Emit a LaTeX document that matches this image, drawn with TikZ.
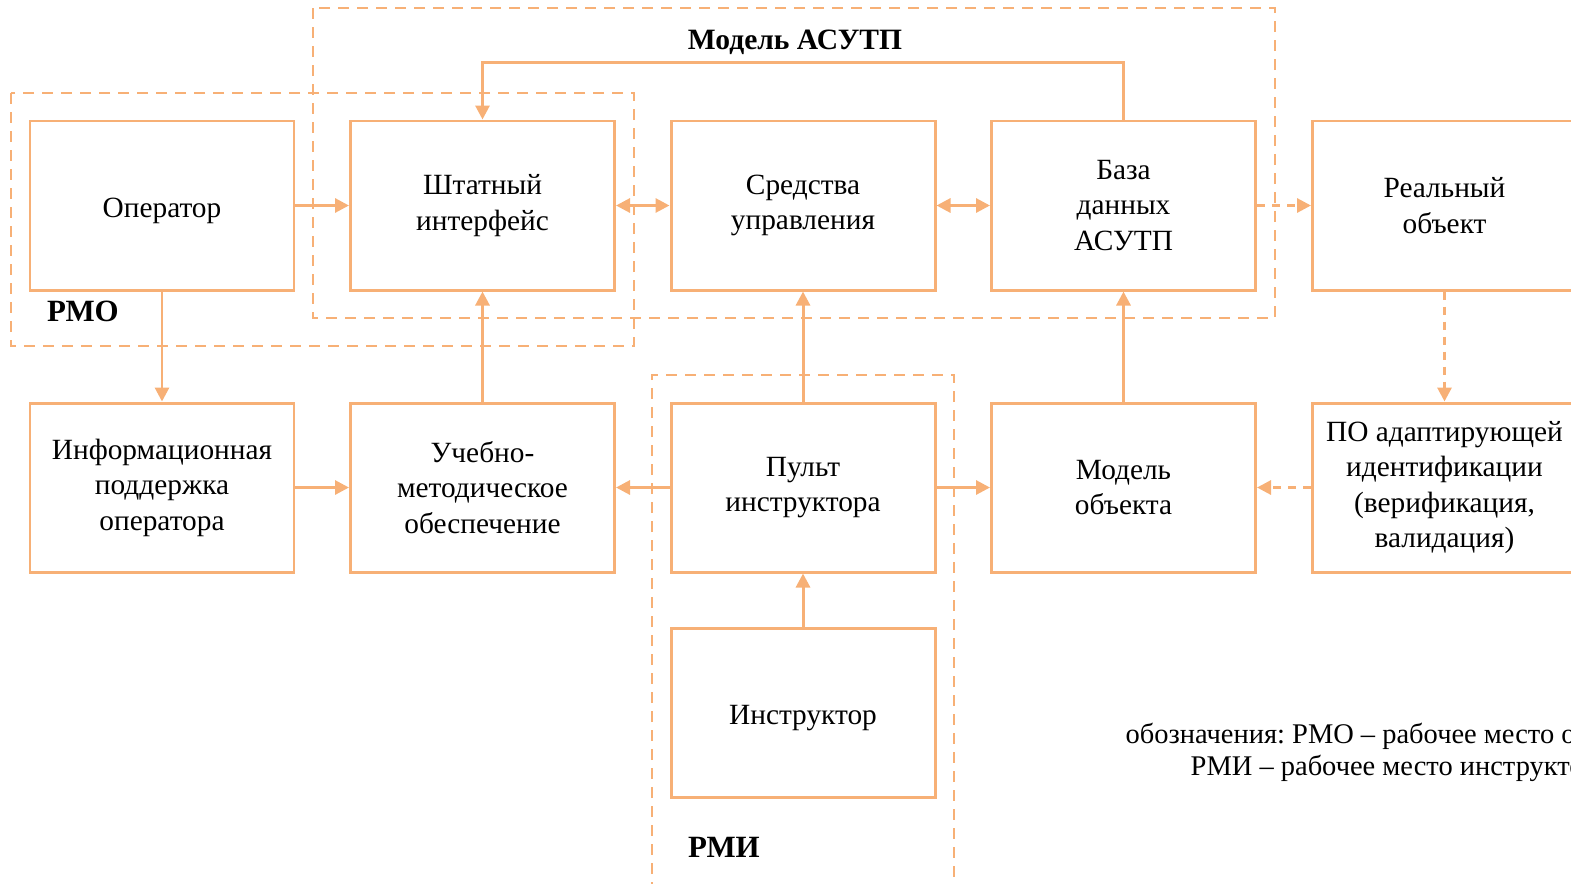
\documentclass[tikz,border=0pt]{standalone}
\usepackage{fontspec}
\setmainfont{Liberation Serif}
\usepackage{xcolor}
\usepackage{tikz}
\usetikzlibrary{arrows.meta}
\frenchspacing
\definecolor{boxorange}{RGB}{247,176,118}
\tikzstyle{block} = [draw=boxorange,line width=0.85pt,rectangle,minimum width=2.64cm,minimum height=1.69cm,align=center,inner sep=0pt,font=\fontsize{8.35}{10.1}\selectfont,execute at begin node={\rule{0pt}{1em}}]
\tikzstyle{arrow} = [draw=boxorange,line width=0.85pt,->,>={Triangle[length=1.4mm,width=1.4mm]}]
\tikzstyle{darrow} = [arrow,dash pattern=on 0.8mm off 0.7mm]
\tikzstyle{zone} = [draw=boxorange,line width=0.6pt,dash pattern=on 1.1mm off 0.8mm]
\tikzstyle{zonelabel} = [font=\bfseries\fontsize{8.8}{10}\selectfont,inner sep=0pt]
\tikzstyle{legend} = [anchor=west,inner sep=0pt,font=\fontsize{8.1}{10}\selectfont]

\begin{document}
\begin{tikzpicture}
            \useasboundingbox (0,0) rectangle (15.71,-8.83);
            \clip (0,0) rectangle (15.71,-8.83);
            % zones
            \draw[zone] (3.13,-0.08) rectangle (12.75,-3.18);
            \draw[zone] (0.11,-0.93) rectangle (6.34,-3.46);
            \draw[zone] (6.52,-9.5) -- (6.52,-3.75) -- (9.54,-3.75) -- (9.54,-9.5);
            \node[zonelabel,font=\bfseries\fontsize{8.4}{10}\selectfont] (asutp) at (7.95,-0.42) {Модель АСУТП};
            \node[zonelabel] (rmo) at (0.83,-3.11) {РМО};
            \node[zonelabel] (rmi) at (7.24,-8.47) {РМИ};
            % basics
            \node[block] (oper) at (1.62,-2.055) {Оператор};
            \node[block] (shtat) at (4.825,-2.055) {Штатный\\интерфейс};
            \node[block] (sredst) at (8.03,-2.055) {Средства\\управления};
            \node[block] (baza) at (11.235,-2.055) {База\\данных\\АСУТП};
            \node[block] (real) at (14.445,-2.055) {Реальный\\объект};
            \node[block] (info) at (1.62,-4.875) {Информационная\\поддержка\\оператора};
            \node[block] (ucheb) at (4.825,-4.875) {Учебно-\\методическое\\обеспечение};
            \node[block] (pult) at (8.03,-4.875) {Пульт\\инструктора};
            \node[block] (model) at (11.235,-4.875) {Модель\\объекта};
            \node[block] (po) at (14.445,-4.875) {ПО адаптирующей\\идентификации\\(верификация,\\валидация)};
            \node[block] (instr) at (8.03,-7.125) {Инструктор};
            % links
            \draw[arrow] (oper) -- (shtat);
            \draw[arrow,<->] (shtat) -- (sredst);
            \draw[arrow,<->] (sredst) -- (baza);
            \draw[darrow] (baza) -- (real);
            \draw[arrow] (baza.north) -- ++(0,0.57) -| (shtat.north);
            \draw[arrow] (oper) -- (info);
            \draw[arrow] (info) -- (ucheb);
            \draw[arrow] (ucheb) -- (shtat);
            \draw[arrow] (pult) -- (ucheb);
            \draw[arrow] (pult) -- (sredst);
            \draw[arrow] (pult) -- (model);
            \draw[arrow] (model) -- (baza);
            \draw[darrow] (real) -- (po);
            \draw[darrow] (po) -- (model);
            \draw[arrow] (instr) -- (pult);
            % legend
            \node[legend] (leg1) at (11.25,-7.36) {обозначения: РМО -- рабочее место оператора,};
            \node[legend] (leg2) at (11.90,-7.68) {РМИ -- рабочее место инструктора};
        \end{tikzpicture}
\end{document}
